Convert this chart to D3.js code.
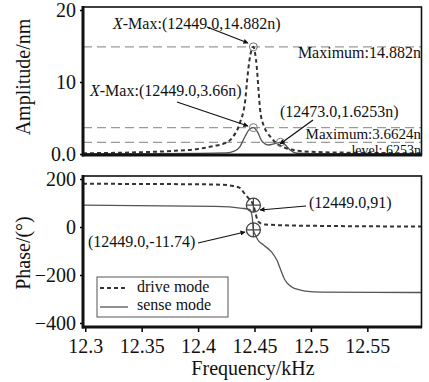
<!DOCTYPE html>
<html>
<head>
<meta charset="utf-8">
<script src="https://cdn.jsdelivr.net/npm/d3@7"></script>
<style>
  body { margin: 0; background: #fff; }
</style>
</head>
<body>
<script>
const width = 429;
const height = 382;
const serif = "'Liberation Serif', 'Times New Roman', Times, serif";

// x ticks (kHz)
const freqTicks = [12.3, 12.35, 12.4, 12.45, 12.5, 12.55];
const ampTicks = [0, 10, 20];
const ampTickLabels = ["0.0", "10", "20"];
const phaseTicks = [-400, -200, 0, 200];

// amplitude, drive mode (kHz, nm)
const driveAmpF = [12.298, 12.35, 12.38, 12.40, 12.415, 12.424, 12.431, 12.437, 12.4418, 12.4433, 12.4455, 12.4475, 12.449,
  12.4505, 12.452, 12.4535, 12.455, 12.458, 12.461, 12.464, 12.468, 12.472, 12.478, 12.486, 12.5, 12.55, 12.598];
const driveAmpV = [0.1, 0.25, 0.45, 0.7, 1.15, 1.5, 2.4, 4.3, 7.5, 10.0, 13.0, 14.5, 14.882,
  14.0, 12.1, 9.0, 6.1, 4.0, 3.0, 2.4, 1.7, 1.2, 0.8, 0.5, 0.3, 0.15, 0.1];

// amplitude, sense mode
const senseAmpF = [12.298, 12.40, 12.425, 12.432, 12.437, 12.4415, 12.446, 12.449, 12.4525, 12.457, 12.4625, 12.468, 12.473,
  12.477, 12.4815, 12.488, 12.5, 12.598];
const senseAmpV = [0.05, 0.08, 0.15, 0.4, 1.0, 2.4, 3.5, 3.66, 3.1, 1.7, 1.25, 1.45, 1.6253,
  1.3, 0.55, 0.1, 0.05, 0.03];

// phase, drive mode (deg)
const drivePhF = [12.298, 12.40, 12.42, 12.43, 12.437, 12.441, 12.445, 12.449, 12.451, 12.453, 12.456, 12.46, 12.5, 12.598];
const drivePhV = [180, 178, 176, 172, 163, 140, 118, 91, 55, 25, 14, 10, 5, 2];

// phase, sense mode
const sensePhF = [12.298, 12.415, 12.439, 12.446, 12.448, 12.449, 12.451, 12.453, 12.458, 12.465, 12.47, 12.4726, 12.477,
  12.483, 12.49, 12.495, 12.51, 12.598];
const sensePhV = [91, 86, 78, 72, 40, -11.74, -35, -54, -75, -104, -140, -171, -221,
  -250, -262, -267, -271, -273];

// reference levels and markers
const ampLevels = [14.882, 3.6624, 1.6253];
const ampMarkers = [[12.449, 14.882], [12.449, 3.66], [12.473, 1.6253]];
const phaseMarkers = [[12.449, 91], [12.449, -11.74]];

const svg = d3.select("body").append("svg")
  .attr("width", width)
  .attr("height", height)
  .attr("font-family", serif);

const x = d3.scaleLinear().domain([12.298, 12.598]).range([83, 421.5]);
const yAmp = d3.scaleLinear().domain([-0.14, 20.42]).range([155, 7]);
const yPh = d3.scaleLinear().domain([-416.7, 212.5]).range([327, 176]);

// clip paths for the two panels
const defs = svg.append("defs");
defs.append("clipPath").attr("id", "clipTop").append("rect")
  .attr("x", 83).attr("y", 7).attr("width", 338.5).attr("height", 148);
defs.append("clipPath").attr("id", "clipBot").append("rect")
  .attr("x", 83).attr("y", 176).attr("width", 338.5).attr("height", 151);
defs.append("marker").attr("id", "arrow")
  .attr("viewBox", "0 0 10 10").attr("refX", 9).attr("refY", 5)
  .attr("markerWidth", 7).attr("markerHeight", 5).attr("orient", "auto")
  .attr("markerUnits", "userSpaceOnUse")
  .append("path").attr("d", "M0,0 L10,5 L0,10 z").attr("fill", "#111");

function zip(f, v) { return f.map((d, i) => [d, v[i]]); }

// ---- top panel ----
const topG = svg.append("g");
const topPlot = topG.append("g").attr("clip-path", "url(#clipTop)");

topPlot.selectAll(".lvl")
  .data(ampLevels)
  .enter().append("line")
  .attr("x1", x.range()[0]).attr("x2", x.range()[1])
  .attr("y1", d => yAmp(d)).attr("y2", d => yAmp(d))
  .attr("stroke", "#9a9a9a").attr("stroke-width", 1.2)
  .attr("stroke-dasharray", "9,5");

const lineAmp = d3.line().x(d => x(d[0])).y(d => yAmp(d[1])).curve(d3.curveMonotoneX);

topPlot.append("path").datum(zip(senseAmpF, senseAmpV))
  .attr("d", lineAmp).attr("fill", "none")
  .attr("stroke", "#555").attr("stroke-width", 1.3);

topPlot.append("path").datum(zip(driveAmpF, driveAmpV))
  .attr("d", lineAmp).attr("fill", "none")
  .attr("stroke", "#333").attr("stroke-width", 2)
  .attr("stroke-dasharray", "4,3");

topPlot.selectAll(".mk")
  .data(ampMarkers)
  .enter().append("circle")
  .attr("cx", d => x(d[0])).attr("cy", d => yAmp(d[1])).attr("r", 4)
  .attr("fill", "none").attr("stroke", "#777").attr("stroke-width", 1);

// top axis
const topAxis = topG.append("g").attr("transform", "translate(83,0)")
  .call(d3.axisLeft(yAmp).tickValues(ampTicks).tickSize(3).tickPadding(4)
    .tickFormat((d, i) => ampTickLabels[i]));
topAxis.select(".domain").remove();
topAxis.selectAll("line").attr("stroke-width", 1.5);
topAxis.selectAll("text").attr("font-size", 20);

// frame top
topG.append("rect").attr("x", 83).attr("y", 7).attr("width", 338.5).attr("height", 148)
  .attr("fill", "none").attr("stroke", "#111").attr("stroke-width", 1.6);
topG.append("line").attr("x1", 83).attr("x2", 83).attr("y1", 6).attr("y2", 156.5)
  .attr("stroke", "#111").attr("stroke-width", 3);
topG.append("line").attr("x1", 82).attr("x2", 422).attr("y1", 155).attr("y2", 155)
  .attr("stroke", "#111").attr("stroke-width", 3);

// annotations
const ann = svg.append("g").attr("font-size", 16);

function xmaxText(tx, ty, rest) {
  const t = ann.append("text").attr("x", tx).attr("y", ty).attr("font-size", 16);
  t.append("tspan").attr("font-style", "italic").text("X");
  t.append("tspan").text(rest);
}
xmaxText(113, 29, "-Max:(12449.0,14.882n)");
xmaxText(90, 96, "-Max:(12449.0,3.66n)");
ann.append("text").attr("x", 280).attr("y", 117).text("(12473.0,1.6253n)");
ann.append("text").attr("x", 421).attr("y", 58).attr("text-anchor", "end").text("Maximum:14.882n");
ann.append("text").attr("x", 421).attr("y", 138.5).attr("text-anchor", "end")
  .attr("font-size", 15).text("Maximum:3.6624n");
ann.append("text").attr("x", 421).attr("y", 154.5).attr("text-anchor", "end")
  .attr("font-size", 14).text("level: 6253n");

const arrows = [
  [207, 27, 248, 43],
  [177, 102, 248, 126],
  [313, 120, 280, 144],
  [306, 206, 260, 210],
  [198, 243, 245, 232]
];
ann.selectAll(".arr")
  .data(arrows)
  .enter().append("line")
  .attr("x1", d => d[0]).attr("y1", d => d[1])
  .attr("x2", d => d[2]).attr("y2", d => d[3])
  .attr("stroke", "#111").attr("stroke-width", 1.2)
  .attr("marker-end", "url(#arrow)");

// ---- bottom panel ----
const botG = svg.append("g");
const botPlot = botG.append("g").attr("clip-path", "url(#clipBot)");

const linePh = d3.line().x(d => x(d[0])).y(d => yPh(d[1])).curve(d3.curveMonotoneX);

botPlot.append("path").datum(zip(sensePhF, sensePhV))
  .attr("d", linePh).attr("fill", "none")
  .attr("stroke", "#555").attr("stroke-width", 1.3);

botPlot.append("path").datum(zip(drivePhF, drivePhV))
  .attr("d", linePh).attr("fill", "none")
  .attr("stroke", "#333").attr("stroke-width", 2)
  .attr("stroke-dasharray", "4,3");

const pm = botPlot.selectAll(".pm")
  .data(phaseMarkers)
  .enter().append("g")
  .attr("transform", d => `translate(${x(d[0])},${yPh(d[1])})`);
pm.append("circle").attr("r", 7).attr("fill", "none").attr("stroke", "#444").attr("stroke-width", 1.3);
pm.append("line").attr("x1", -7).attr("x2", 7).attr("stroke", "#444").attr("stroke-width", 1.2);
pm.append("line").attr("y1", -7).attr("y2", 7).attr("stroke", "#444").attr("stroke-width", 1.2);

const botAxisY = botG.append("g").attr("transform", "translate(83,0)")
  .call(d3.axisLeft(yPh).tickValues(phaseTicks).tickSize(3).tickPadding(4)
    .tickFormat(d => d < 0 ? "\u2212" + Math.abs(d) : d));
botAxisY.select(".domain").remove();
botAxisY.selectAll("line").attr("stroke-width", 1.5);
botAxisY.selectAll("text").attr("font-size", 20);

const botAxisX = botG.append("g").attr("transform", "translate(0,327)")
  .call(d3.axisBottom(x).tickValues(freqTicks).tickSize(5).tickPadding(7)
    .tickFormat(d => d));
botAxisX.select(".domain").remove();
botAxisX.selectAll("line").attr("stroke-width", 1.5);
botAxisX.selectAll("text").attr("font-size", 20);

botG.append("rect").attr("x", 83).attr("y", 176).attr("width", 338.5).attr("height", 151)
  .attr("fill", "none").attr("stroke", "#111").attr("stroke-width", 1.6);
botG.append("line").attr("x1", 83).attr("x2", 83).attr("y1", 175).attr("y2", 328.5)
  .attr("stroke", "#111").attr("stroke-width", 3);
botG.append("line").attr("x1", 82).attr("x2", 422).attr("y1", 327).attr("y2", 327)
  .attr("stroke", "#111").attr("stroke-width", 3);

ann.append("text").attr("x", 309).attr("y", 208).text("(12449.0,91)");
ann.append("text").attr("x", 88).attr("y", 247).text("(12449.0,-11.74)");

// legend
const legend = svg.append("g");
legend.append("rect").attr("x", 97).attr("y", 277).attr("width", 131).attr("height", 40)
  .attr("fill", "#fff").attr("stroke", "#555").attr("stroke-width", 1);
legend.append("line").attr("x1", 100).attr("x2", 128).attr("y1", 288).attr("y2", 288)
  .attr("stroke", "#333").attr("stroke-width", 2).attr("stroke-dasharray", "4,3");
legend.append("line").attr("x1", 100).attr("x2", 128).attr("y1", 307).attr("y2", 307)
  .attr("stroke", "#555").attr("stroke-width", 1.3);
legend.append("text").attr("x", 137).attr("y", 292).attr("font-size", 16).text("drive mode");
legend.append("text").attr("x", 137).attr("y", 310).attr("font-size", 16).text("sense mode");

// axis titles
svg.append("text").attr("transform", "translate(30,77) rotate(-90)")
  .attr("text-anchor", "middle").attr("font-size", 20).text("Amplitude/nm");
svg.append("text").attr("transform", "translate(30,253) rotate(-90)")
  .attr("text-anchor", "middle").attr("font-size", 20).text("Phase/(°)");
svg.append("text").attr("x", 253).attr("y", 375)
  .attr("text-anchor", "middle").attr("font-size", 20).text("Frequency/kHz");

// force the serif face on every label, axis text included
svg.selectAll("text").style("font-family", serif).attr("fill", "#111");
</script>
</body>
</html>
